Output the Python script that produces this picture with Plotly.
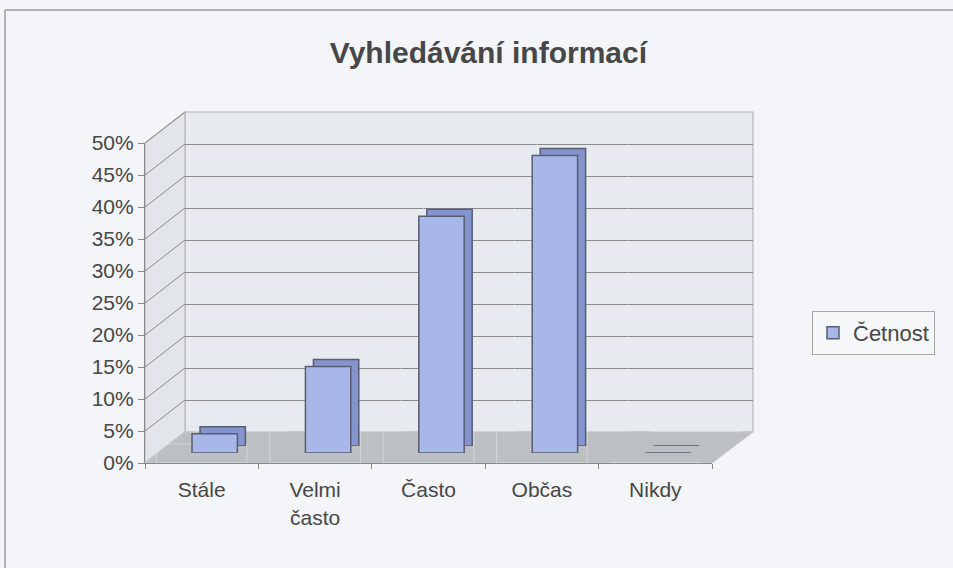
import plotly.graph_objects as go

categories = ["Stále", "Velmi<br>často", "Často", "Občas", "Nikdy"]
values = [3.0, 13.5, 37.0, 46.5, 0.0]
series_name = "Četnost"
tick_values = [0, 5, 10, 15, 20, 25, 30, 35, 40, 45, 50]
tick_labels = [f"{v}%" for v in tick_values]
title_text = "Vyhledávání informací"

# ---- geometry (pixels in a 953x568 canvas) ----
W, H = 953, 568
L, R, T, B = 145, 753, 112, 463          # plot area
PW, PH = R - L, B - T

def fx(px):
    return (px - L) / PW

def fy(py):
    return (B - py) / PH

front_x = [fx(145), fx(712)]
front_y = [fy(463), fy(143)]
back_x = [fx(185), fx(753)]
back_y = [fy(432), fy(112)]
bar_x = [fx(158), fx(725)]
bar_y = [fy(453), fy(133)]
barb_x = [fx(166), fx(733)]
barb_y = [fy(446), fy(126)]

text_col = "#474747"
grid_col = "#8c8c8c"
font_fam = "Liberation Sans, Arial, sans-serif"
bg_col = "#f3f5f8"

fig = go.Figure()

# invisible traces to set up the front and back axes
fig.add_trace(go.Bar(x=categories, y=values, xaxis="x", yaxis="y",
                     marker=dict(color="rgba(0,0,0,0)"), showlegend=False,
                     hoverinfo="skip"))
fig.add_trace(go.Bar(x=categories, y=values, xaxis="x2", yaxis="y2",
                     marker=dict(color="rgba(0,0,0,0)"), showlegend=False,
                     hoverinfo="skip"))
# back (side/top) faces of the bars
fig.add_trace(go.Bar(x=categories, y=values, xaxis="x3", yaxis="y3", width=0.4,
                     marker=dict(color="#8495cd", line=dict(color="#585d74", width=1.5)),
                     showlegend=False, hoverinfo="skip"))
# front faces
fig.add_trace(go.Bar(x=categories, y=values, xaxis="x4", yaxis="y4", width=0.4,
                     name=series_name,
                     marker=dict(color="#a6b7e8", line=dict(color="#585d74", width=1.5))))

shapes = []
# outer frame (left and top edges only; the rest is outside the picture)
shapes.append(dict(type="line", xref="paper", yref="paper",
                   x0=fx(5), x1=fx(5), y0=fy(H), y1=fy(10),
                   line=dict(color="#9a9a9a", width=1.5), layer="below"))
shapes.append(dict(type="line", xref="paper", yref="paper",
                   x0=fx(5), x1=fx(W), y0=fy(10), y1=fy(10),
                   line=dict(color="#9a9a9a", width=1.5), layer="below"))
# back wall
shapes.append(dict(type="rect", xref="paper", yref="paper",
                   x0=back_x[0], x1=back_x[1], y0=back_y[0], y1=back_y[1],
                   line=dict(color="#b5b8bd", width=1.2), fillcolor="#e7eaef",
                   layer="below"))
# left wall
shapes.append(dict(type="path", xref="paper", yref="paper",
                   path=f"M {front_x[0]} {front_y[0]} L {front_x[0]} {front_y[1]} "
                        f"L {back_x[0]} {back_y[1]} L {back_x[0]} {back_y[0]} Z",
                   line=dict(color="#b5b8bd", width=1.2), fillcolor="#e2e5ea",
                   layer="below"))
# floor
shapes.append(dict(type="path", xref="paper", yref="paper",
                   path=f"M {front_x[0]} {front_y[0]} L {front_x[1]} {front_y[0]} "
                        f"L {back_x[1]} {back_y[0]} L {back_x[0]} {back_y[0]} Z",
                   line=dict(color="#c4c7c9", width=1), fillcolor="#bcc0c2",
                   layer="below"))
# left-wall gridlines
for v in tick_values[1:]:
    yf = front_y[0] + v / 50 * (front_y[1] - front_y[0])
    yb = back_y[0] + v / 50 * (back_y[1] - back_y[0])
    shapes.append(dict(type="line", xref="paper", yref="paper",
                       x0=front_x[0], y0=yf, x1=back_x[0], y1=yb,
                       line=dict(color=grid_col, width=1), layer="below"))

fig.update_layout(
    width=W, height=H,
    margin=dict(l=L, r=W - R, t=T, b=H - B),
    paper_bgcolor=bg_col,
    plot_bgcolor="rgba(0,0,0,0)",
    barmode="overlay",
    font=dict(family=font_fam, color=text_col, size=21),
    title=dict(text=f"<b>{title_text}</b>", x=0.5125, xanchor="center",
               y=1 - 52 / H, yanchor="middle",
               font=dict(size=30, family=font_fam, color=text_col)),
    showlegend=True,
    legend=dict(x=fx(812), y=fy(333), xanchor="left", yanchor="middle",
                bgcolor="#f6f7f9", bordercolor="#a8a8a8", borderwidth=1,
                font=dict(size=22, color=text_col), itemwidth=30),
    shapes=shapes,
    xaxis=dict(domain=front_x, anchor="y", type="category",
               categoryorder="array", categoryarray=categories,
               showline=True, linecolor="#8a8a8a", linewidth=1.2,
               ticks="outside", tickson="boundaries", ticklen=5, tickcolor="#8a8a8a",
               ticklabelstandoff=8,
               showgrid=False, zeroline=False, tickfont=dict(size=21)),
    yaxis=dict(domain=front_y, anchor="x", range=[0, 50],
               tickmode="array", tickvals=tick_values, ticktext=tick_labels,
               showline=True, linecolor="#8a8a8a", linewidth=1.2,
               ticks="outside", ticklen=6, tickcolor="#8a8a8a",
               showgrid=False, zeroline=False, tickfont=dict(size=21)),
    xaxis2=dict(domain=back_x, anchor="y2", type="category", visible=False,
                categoryorder="array", categoryarray=categories),
    yaxis2=dict(domain=back_y, anchor="x2", range=[0, 50], tickvals=tick_values,
                showticklabels=False, showgrid=True, gridcolor=grid_col, gridwidth=1,
                zeroline=False, showline=False, ticks=""),
    xaxis3=dict(domain=barb_x, anchor="y3", type="category", visible=False,
                categoryorder="array", categoryarray=categories),
    yaxis3=dict(domain=barb_y, anchor="x3", range=[0, 50], visible=False),
    xaxis4=dict(domain=bar_x, anchor="y4", type="category", visible=False,
                categoryorder="array", categoryarray=categories),
    yaxis4=dict(domain=bar_y, anchor="x4", range=[0, 50], visible=False),
)

fig.write_html("out.html",
               config={"displayModeBar": False},
               post_script=f"document.body.style.margin='0';"
                           f"document.body.style.background='{bg_col}';")
